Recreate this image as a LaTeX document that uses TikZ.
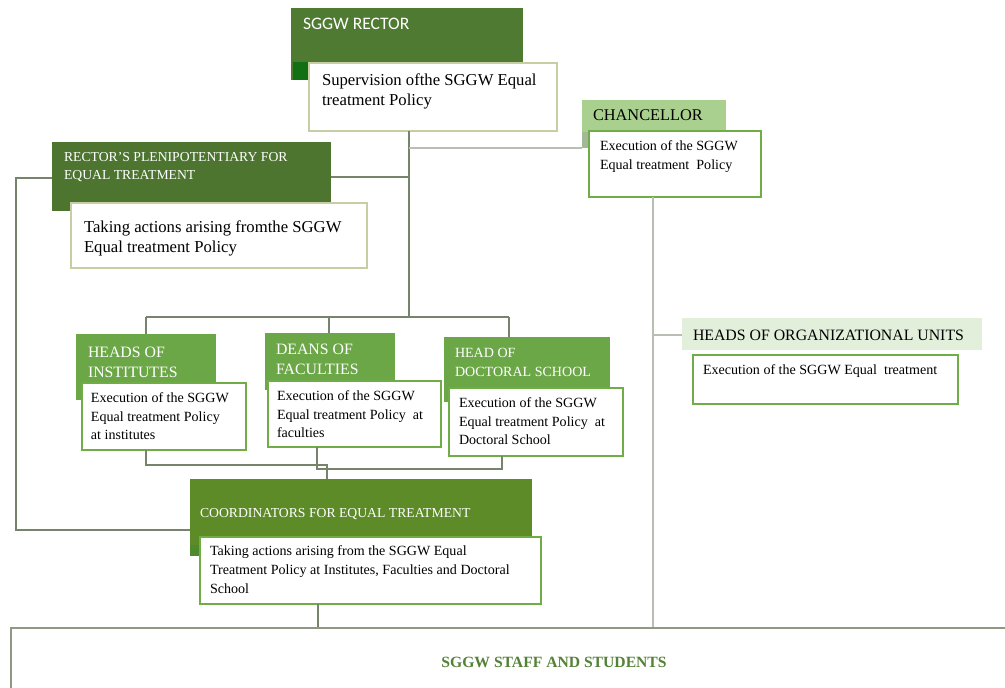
\documentclass[tikz,border=0pt]{standalone}
\usepackage{fontspec}
\setmainfont{Liberation Serif}
\newfontfamily\calibri{Carlito}

\definecolor{rectorgreen}{HTML}{4F7A31}
\definecolor{rectorshade}{HTML}{136F13}
\definecolor{plengreen}{HTML}{4D7530}
\definecolor{chancfill}{HTML}{A9D08E}
\definecolor{chancshade}{HTML}{A3B896}
\definecolor{unitsfill}{HTML}{E2EFDA}
\definecolor{midgreen}{HTML}{6BA747}
\definecolor{coordgreen}{HTML}{5C8B28}
\definecolor{coordshade}{HTML}{4E8A2C}
\definecolor{boxgreen}{HTML}{70AD47}
\definecolor{boxolive}{HTML}{C8CDA3}
\definecolor{linegray}{HTML}{75846B}
\definecolor{linelight}{HTML}{B8BFB2}
\definecolor{staffline}{HTML}{8E9883}
\definecolor{staffgreen}{HTML}{538135}

% 1 unit = 1 pixel of the chart
\newlength{\px}\setlength{\px}{0.02cm}
% box text: width, height, left gap, top gap, lines
\newcommand{\tb}[5]{\parbox[t][#2\px][t]{#1\px}{\raggedright\leftskip=#3\px\vspace*{#4\px}#5}}

\begin{document}
\begin{tikzpicture}[x=0.02cm, y=-0.02cm,
    hdr/.style={anchor=north west, inner sep=0pt, outer sep=0pt, text=white},
    body/.style={anchor=north west, inner sep=0pt, outer sep=0pt, fill=white,
        draw=boxgreen, line width=0.9pt, font=\fontsize{8}{10.4}\selectfont},
    oli/.style={body, draw=boxolive, line width=1.1pt, font=\fontsize{9.5}{11.4}\selectfont},
    lnk/.style={draw=linegray, line width=1pt},
    lite/.style={draw=linelight, line width=1pt}]
    \useasboundingbox (0,0) rectangle (1005,687);
    \clip (0,0) rectangle (1005,687);

    % Rector
    \node[hdr, fill=rectorgreen, font=\calibri\fontsize{10}{12}\selectfont] (rector) at (291,8)
        {\tb{232}{72}{12}{10.4}{SGGW RECTOR}};
    \fill[rectorshade] (293,62) rectangle (310,80);
    \node[oli] (superv) at (309,63)
        {\tb{248}{68}{13}{11}{Supervision ofthe SGGW Equal\\treatment Policy}};

    % Plenipotentiary
    \node[hdr, fill=plengreen, font=\fontsize{7.8}{10.2}\selectfont] (plen) at (52,142)
        {\tb{279}{69}{12}{10.5}{RECTOR’S PLENIPOTENTIARY FOR\\EQUAL TREATMENT}};
    \node[oli] (plenbody) at (71,203)
        {\tb{296}{65}{13}{18}{Taking actions arising fromthe SGGW\\Equal treatment Policy}};

    % Chancellor
    \node[hdr, fill=chancfill, text=black, font=\fontsize{9.3}{11}\selectfont] (chanc) at (582,100)
        {\tb{144}{32}{11}{9.6}{CHANCELLOR}};
    \fill[chancshade] (582,132) rectangle (589,148);
    \node[body] (chancbody) at (589,131)
        {\tb{172}{66}{11}{9.9}{Execution of the SGGW\\Equal treatment~ Policy}};

    % Organizational units
    \node[hdr, fill=unitsfill, text=black, font=\fontsize{9}{11}\selectfont] (units) at (682,318)
        {\tb{300}{32}{11}{11.8}{HEADS OF ORGANIZATIONAL UNITS}};
    \node[body] (unitsbody) at (693,355)
        {\tb{265}{49}{10}{9.9}{Execution of the SGGW Equal~ treatment}};

    % Institutes, faculties, doctoral school
    \node[hdr, fill=midgreen, font=\fontsize{9}{11.4}\selectfont] (inst) at (76,334)
        {\tb{140}{66}{12}{12.8}{HEADS OF\\INSTITUTES}};
    \node[body] (instbody) at (82,383)
        {\tb{164}{67}{9}{9.9}{Execution of the SGGW\\Equal treatment Policy\\at institutes}};
    \node[hdr, fill=midgreen, font=\fontsize{9}{11.4}\selectfont] (deans) at (265,333)
        {\tb{130}{57}{11}{10.8}{DEANS OF\\FACULTIES}};
    \node[body] (deansbody) at (268,381)
        {\tb{173}{66}{9}{9.9}{Execution of the SGGW\\Equal treatment Policy~ at\\faculties}};
    \node[hdr, fill=midgreen, font=\fontsize{8}{10.8}\selectfont] (doct) at (444,337)
        {\tb{166}{65}{11}{11.4}{HEAD OF\\DOCTORAL SCHOOL}};
    \node[body] (doctbody) at (449,388)
        {\tb{174}{68}{10}{9.9}{Execution of the SGGW\\Equal treatment Policy~ at\\Doctoral School}};

    % Coordinators
    \node[hdr, fill=coordgreen, font=\fontsize{7.8}{10}\selectfont] (coord) at (190,479)
        {\tb{342}{66}{10}{29.5}{COORDINATORS FOR EQUAL TREATMENT}};
    \fill[coordshade] (190,545) rectangle (200,556);
    \node[body, font=\fontsize{8}{10.8}\selectfont] (coordbody) at (200,537)
        {\tb{341}{67}{10}{8.9}{Taking actions arising from the SGGW Equal\\Treatment Policy at Institutes, Faculties and Doctoral\\School}};

    % Staff and students
    \node[anchor=north west, draw=staffline, line width=1.3pt, fill=white, text=staffgreen,
        font=\bfseries\fontsize{8.9}{10}\selectfont, minimum width=21.72cm, minimum height=1.36cm]
        (staff) at (10,627) {SGGW STAFF AND STUDENTS};

    % Lines
    \draw[lnk] (superv.south -| 409,0) -- (409,317);
    \draw[lite] (409,148) -- (chanc.west |- 0,148);
    \draw[lnk] (plen.east |- 0,177) -- (409,177);
    \draw[lnk] (146,317) -- (509,317);
    \foreach \n/\x in {inst/146, deans/329, doct/509}
        \draw[lnk] (\x,317) -- (\n.north -| \x,0);
    \draw[lnk] (plen.west |- 0,178) -| (16,530) -- (coord.west |- 0,530);
    \draw[lnk] (instbody.south -| 146,0) |- (327,465) -- (coord.north -| 327,0);
    \draw[lnk] (deansbody.south -| 317,0) |- (502,469) -- (doctbody.south -| 502,0);
    \draw[lnk] (coordbody.south -| 318,0) -- (staff.north -| 318,0);
    \draw[lite] (chancbody.south -| 653,0) -- (staff.north -| 653,0);
    \draw[lite] (653,335) -- (units.west |- 0,335);
\end{tikzpicture}
\end{document}
